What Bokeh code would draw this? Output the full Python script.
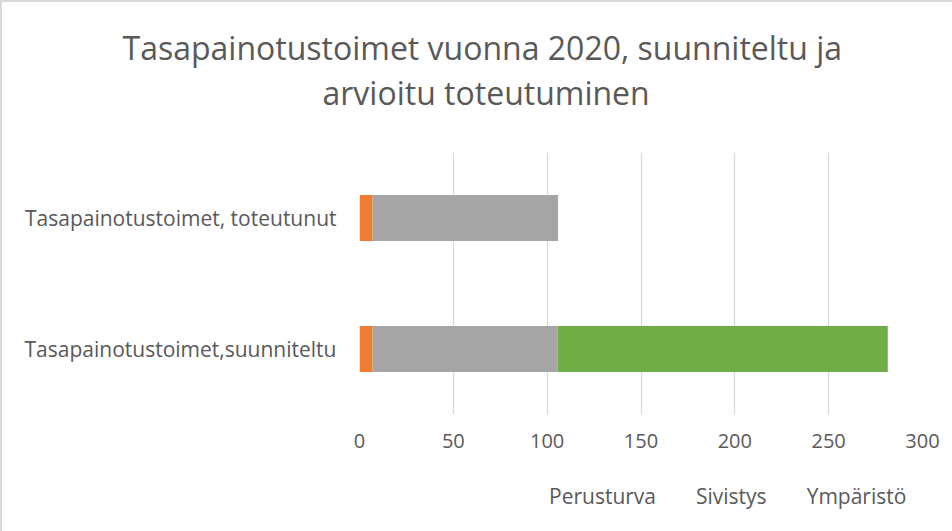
from bokeh.plotting import figure
from bokeh.layouts import column
from bokeh.models import Title, Legend, LegendItem, ColumnDataSource, FactorRange
from bokeh.embed import file_html
from bokeh.resources import INLINE

title_lines = ["Tasapainotustoimet vuonna 2020, suunniteltu ja", "arvioitu toteutuminen"]
categories = ["Tasapainotustoimet,suunniteltu", "Tasapainotustoimet, toteutunut"]
series = ["Perusturva", "Sivistys", "Ympäristö", "Tekninen", "Myynti"]
perusturva = [7, 7]
sivistys = [98.5, 98.8]
ymparisto = [0, 0]
tekninen = [0, 0]
myynti = [176, 0]
colors = ["#ED7D31", "#A5A5A5", "#FFC000", "#5B9BD5", "#70AD47"]
x_ticks = [0, 50, 100, 150, 200, 250, 300]

FONT = "Open Sans"
TXT = "#595959"

data = {"cat": categories, "Perusturva": perusturva, "Sivistys": sivistys,
        "Ympäristö": ymparisto, "Tekninen": tekninen, "Myynti": myynti}
src = ColumnDataSource(data)

p = figure(y_range=FactorRange(*categories), x_range=(0, 300),
           width=952, height=470, output_backend="svg", toolbar_location=None,
           min_border_left=357, min_border_right=32, min_border_top=150, min_border_bottom=58)

p.hbar_stack(series, y="cat", height=0.35, color=colors, source=src, line_color=None)

# titles: spacer closest to frame, then second line, then first line
spacer = Title(text=" ", text_font_size="1px", standoff=36)
t2 = Title(text=title_lines[1], align="left", text_font=FONT, text_font_size="32px",
           text_color=TXT, text_font_style="normal", standoff=0, offset=-37)
t1 = Title(text=title_lines[0], align="left", text_font=FONT,
           text_font_size="32px", text_color=TXT, text_font_style="normal", standoff=0, offset=-237)
p.add_layout(spacer, "above")
p.add_layout(t2, "above")
p.add_layout(t1, "above")

p.outline_line_color = None
p.xgrid.grid_line_color = "#D9D9D9"
p.xgrid.grid_line_width = 1.3
p.ygrid.grid_line_color = None
p.xaxis.ticker = x_ticks
p.xaxis.axis_line_color = None
p.xaxis.major_tick_line_color = None
p.xaxis.minor_tick_line_color = None
p.xaxis.major_label_text_font = FONT
p.xaxis.major_label_text_font_size = "20px"
p.xaxis.major_label_text_color = TXT
p.xaxis.major_label_standoff = 13
p.yaxis.axis_line_color = None
p.yaxis.major_tick_line_color = None
p.yaxis.major_label_text_font = FONT
p.yaxis.major_label_text_font_size = "21px"
p.yaxis.major_label_text_color = TXT
p.yaxis.major_label_standoff = 17
p.styles = {"border-left": "2px solid #D9D9D9", "border-top": "2px solid #D9D9D9"}

# legend strip below the chart
lg = figure(width=952, height=61, x_range=(0, 1), y_range=(0, 1), output_backend="svg",
            toolbar_location=None, x_axis_location=None, y_axis_location=None,
            min_border_left=0, min_border_right=0, min_border_top=0, min_border_bottom=0)
lg.grid.grid_line_color = None
lg.outline_line_color = None
proxies = [lg.hbar(y=[], right=[], height=0.5, color=c, line_color=None) for c in colors]
items = [LegendItem(label=s, renderers=[r]) for s, r in zip(series, proxies)]
legend = Legend(items=items, orientation="horizontal", label_text_font=FONT,
                label_text_font_size="21px", label_text_color=TXT, glyph_width=12, glyph_height=12,
                spacing=23, label_standoff=5, border_line_color=None, background_fill_alpha=0,
                location=(173, 21), margin=0, padding=0)
lg.add_layout(legend, "center")
lg.styles = {"border-left": "2px solid #D9D9D9"}

layout = column(p, lg, spacing=0)
open("out.html", "w").write(file_html(layout, INLINE))
